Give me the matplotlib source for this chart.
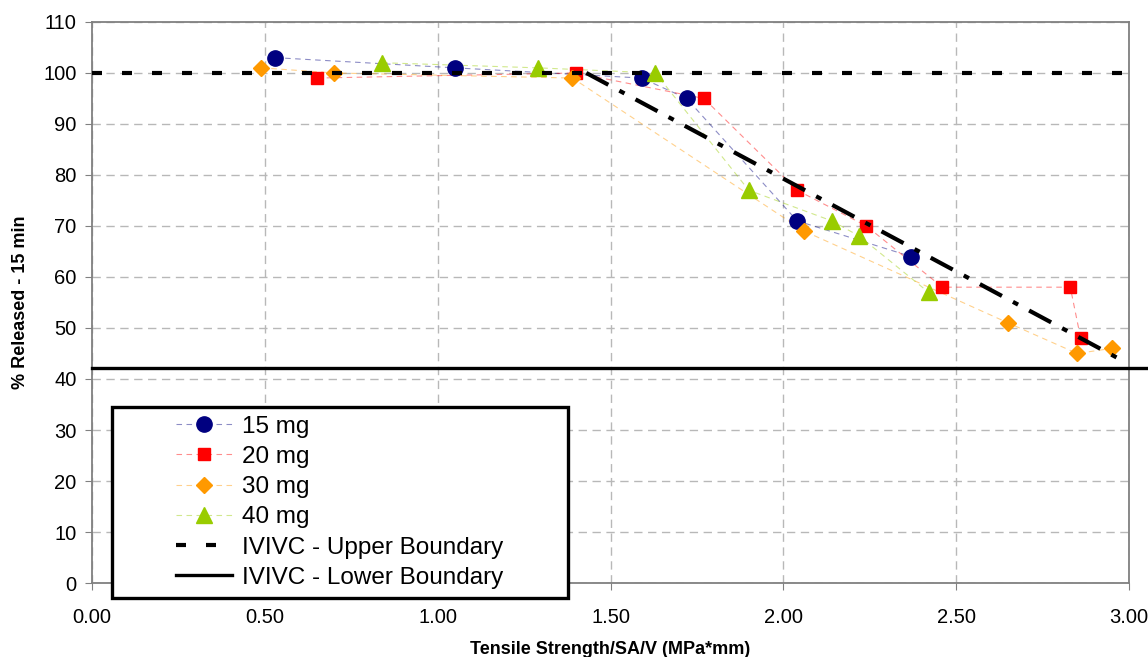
import matplotlib.pyplot as plt
from matplotlib.patches import Rectangle
from matplotlib.lines import Line2D
from matplotlib.colors import to_rgba

plt.rcParams['font.family'] = ['Liberation Sans', 'DejaVu Sans']

# data
x15 = [0.53, 1.05, 1.59, 1.72, 2.04, 2.37]
y15 = [103, 101, 99, 95, 71, 64]

x20 = [0.65, 1.40, 1.77, 2.04, 2.24, 2.46, 2.83, 2.86]
y20 = [99, 100, 95, 77, 70, 58, 58, 48]

x30 = [0.49, 0.70, 1.39, 2.06, 2.65, 2.85, 2.95]
y30 = [101, 100, 99, 69, 51, 45, 46]

x40 = [0.84, 1.29, 1.63, 1.90, 2.14, 2.22, 2.42]
y40 = [102, 101, 100, 77, 71, 68, 57]

upper_y = 100
lower_y = 42.2
trend_x = [1.43, 2.97]
trend_y = [100, 44]

xticks = [0.0, 0.5, 1.0, 1.5, 2.0, 2.5, 3.0]
yticks = list(range(0, 111, 10))

fig = plt.figure(figsize=(11.48, 6.57), dpi=100)
ax = fig.add_axes([0.0801, 0.1126, 0.9034, 0.854])

gray = '#808080'
ax.set_xlim(0, 3)
ax.set_ylim(0, 110)
ax.set_xticks(xticks)
ax.set_xticklabels([f'{v:.2f}' for v in xticks])
ax.set_yticks(yticks)
ax.grid(True, color='#b8b8b8', linestyle=(0, (6, 4)), linewidth=1.0)
ax.set_axisbelow(True)
for s in ax.spines.values():
    s.set_color(gray)
    s.set_linewidth(1.3)
ax.tick_params(direction='out', length=5, color=gray, labelsize=14.5)
ax.tick_params(axis='x', pad=13)
ax.tick_params(axis='y', pad=6)

series = [
    (x15, y15, '#000080', 'o', 11, '15 mg'),
    (x20, y20, '#ff0000', 's', 9, '20 mg'),
    (x30, y30, '#ff9900', 'D', 8, '30 mg'),
    (x40, y40, '#99cc00', '^', 11, '40 mg'),
]
handles = []
for xs, ys, c, m, ms, lab in series:
    faint = to_rgba(c, 0.45)
    ax.plot(xs, ys, color=faint, linewidth=0.8, linestyle=(0, (5, 4)), zorder=3)
    ax.plot(xs, ys, linestyle='none', marker=m, markersize=ms, color=c, zorder=4)
    handles.append(Line2D([], [], color=faint, linewidth=0.8, linestyle=(0, (5, 4)),
                          marker=m, markersize=ms, markeredgecolor=c,
                          markerfacecolor=c, label=lab))

ax.axhline(upper_y, color='black', linewidth=3, linestyle=(0, (2.4, 4.8)), zorder=5)
ax.plot([0, 3.06], [lower_y, lower_y], color='black', linewidth=2.4,
        clip_on=False, zorder=5)
ax.plot(trend_x, trend_y, color='black', linewidth=3,
        linestyle=(0, (6, 3, 1.4, 3)), zorder=5)

handles.append(Line2D([], [], color='black', linewidth=3,
                      linestyle=(0, (2.4, 4.8)), label='IVIVC - Upper Boundary'))
handles.append(Line2D([], [], color='black', linewidth=2.4,
                      label='IVIVC - Lower Boundary'))

box = Rectangle((0.019, -0.027), 0.44, 0.34, transform=ax.transAxes,
                facecolor='white', edgecolor='black', linewidth=2.4,
                clip_on=False, zorder=6)
ax.add_patch(box)
leg = ax.legend(handles=handles, loc='center left', bbox_to_anchor=(0.081, 0.144),
                frameon=False, fontsize=17.5, handlelength=2.3, handletextpad=0.4,
                labelspacing=0.34, borderaxespad=0, borderpad=0)
leg.set_zorder(7)

ax.set_xlabel('Tensile Strength/SA/V (MPa*mm)', fontsize=13, fontweight='bold', labelpad=10)
ax.set_ylabel('% Released - 15 min', fontsize=13, fontweight='bold', labelpad=10)

fig.savefig('out.png', dpi=100)
